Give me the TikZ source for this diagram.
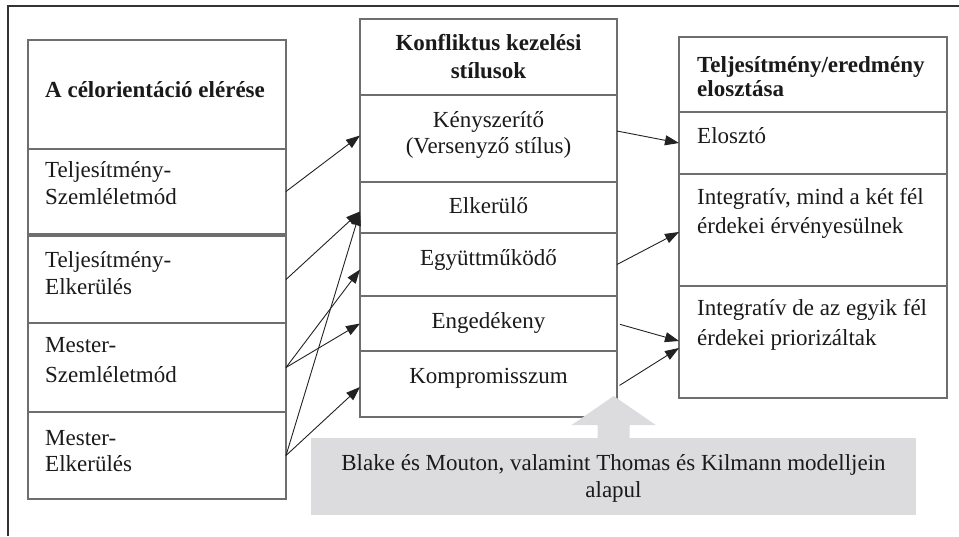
\documentclass[tikz,border=0pt]{standalone}
\usepackage{fontspec}
\setmainfont{Liberation Serif}
\usetikzlibrary{arrows.meta,calc}
\newcommand\myfs[1]{\fontsize{23}{#1}\selectfont}
\definecolor{boxline}{HTML}{6E6E6E}
\definecolor{arr}{HTML}{222222}
\definecolor{greyfill}{HTML}{DCDCDE}
\definecolor{txt}{HTML}{1A1A1A}
\tikzset{
  cell/.style={draw=boxline, line width=1.2pt, inner sep=0pt, outer sep=0pt, anchor=north west, fill=white},
  lbl/.style={inner sep=0pt, text=txt, font=\myfs{27}, anchor=base west, align=left},
  clbl/.style={inner sep=0pt, text=txt, font=\myfs{27}, anchor=base, align=center},
  conn/.style={draw=arr, line width=0.9pt, -{Triangle[length=14pt,width=10pt]}},
}
\begin{document}
\begin{tikzpicture}[x=1pt,y=-1pt]
\useasboundingbox (0,0) rectangle (959,536);
\draw[line width=1.5pt, draw=black!80] (8,536) -- (8,6) -- (959,6);

% left column (multi-line labels are placed by their last baseline)
\node[cell, minimum width=258pt, minimum height=109pt] (L1) at (28,40) {};
\node[cell, minimum width=258pt, minimum height=85pt] (L2) at (28,149) {};
\node[cell, minimum width=258pt, minimum height=87pt] (L3) at (28,236) {};
\node[cell, minimum width=258pt, minimum height=89pt] (L4) at (28,323) {};
\node[cell, minimum width=258pt, minimum height=87pt] (L5) at (28,412) {};
\node[lbl, font=\bfseries\myfs{27}] (tL1) at (45,97) {A célorientáció elérése};
\node[lbl] (tL2) at (45,204) {Teljesítmény-\\Szemléletmód};
\node[lbl] (tL3) at (45,294) {Teljesítmény-\\Elkerülés};
\node[lbl, font=\myfs{30}] (tL4) at (45,382) {Mester-\\Szemléletmód};
\node[lbl, font=\myfs{26}] (tL5) at (45,471) {Mester-\\Elkerülés};

% middle column
\node[cell, minimum width=257pt, minimum height=76pt] (M1) at (360,19) {};
\node[cell, minimum width=257pt, minimum height=87pt] (M2) at (360,95) {};
\node[cell, minimum width=257pt, minimum height=51pt] (M3) at (360,182) {};
\node[cell, minimum width=257pt, minimum height=63pt] (M4) at (360,233) {};
\node[cell, minimum width=257pt, minimum height=55pt] (M5) at (360,296) {};
\node[cell, minimum width=257pt, minimum height=66pt] (M6) at (360,351) {};
\node[clbl, font=\bfseries\myfs{28}] (tM1) at (488.5,78) {Konfliktus kezelési\\stílusok};
\node[clbl, font=\myfs{26}] (tM2) at (488.5,153) {Kényszerítő\\(Versenyző stílus)};
\node[clbl] (tM3) at (488.5,213) {Elkerülő};
\node[clbl] (tM4) at (488.5,265) {Együttműködő};
\node[clbl] (tM5) at (488.5,328) {Engedékeny};
\node[clbl] (tM6) at (488.5,383) {Kompromisszum};

% right column
\node[cell, minimum width=268pt, minimum height=75pt] (R1) at (679,37) {};
\node[cell, minimum width=268pt, minimum height=62pt] (R2) at (679,112) {};
\node[cell, minimum width=268pt, minimum height=112pt] (R3) at (679,174) {};
\node[cell, minimum width=268pt, minimum height=112pt] (R4) at (679,286) {};
\node[lbl, font=\bfseries\myfs{24}] (tR1) at (697,96) {Teljesítmény/eredmény\\elosztása};
\node[lbl] (tR2) at (697,143) {Elosztó};
\node[lbl, font=\myfs{29}] (tR3) at (697,233) {Integratív, mind a két fél\\érdekei érvényesülnek};
\node[lbl, font=\myfs{30}] (tR4) at (697,345) {Integratív de az egyik fél\\érdekei priorizáltak};

% grey block arrow
\node[fill=greyfill, inner sep=0pt, minimum width=605pt, minimum height=77pt, anchor=north west] (G) at (311,438) {};
\fill[greyfill] ($(G.north)+(-16,1)$) -- ($(G.north)+(-16,-13)$) -- ($(G.north)+(-42,-13)$)
  -- ($(G.north)+(0,-42)$) -- ($(G.north)+(42,-13)$) -- ($(G.north)+(16,-13)$)
  -- ($(G.north)+(16,1)$) -- cycle;
\node[clbl] (tG) at (613.5,497) {Blake és Mouton, valamint Thomas és Kilmann modelljein\\alapul};

% connectors left -> middle
\draw[conn] (L2.east) -- ([yshift=3pt]M2.west);
\draw[conn] (L3.east) -- ([yshift=-4pt]M3.west);
\draw[conn] (L4.east) -- ([yshift=-5pt]M4.west);
\draw[conn] (L4.east) -- (M5.west);
\draw[conn] (L5.east) -- ([yshift=-4pt]M3.west);
\draw[conn] (L5.east) -- ([yshift=-3pt]M6.west);

% connectors middle -> right
\draw[conn] ([yshift=7.5pt]M2.east) -- (R2.west);
\draw[conn] (M4.east) -- ([yshift=-2pt]R3.west);
\draw[conn, shorten <=3pt] (M5.east) -- ([yshift=1pt]R4.west);
\draw[conn, shorten <=3pt] ([yshift=-3pt]M6.east) -- ([yshift=-6pt]R4.west);
\end{tikzpicture}
\end{document}
